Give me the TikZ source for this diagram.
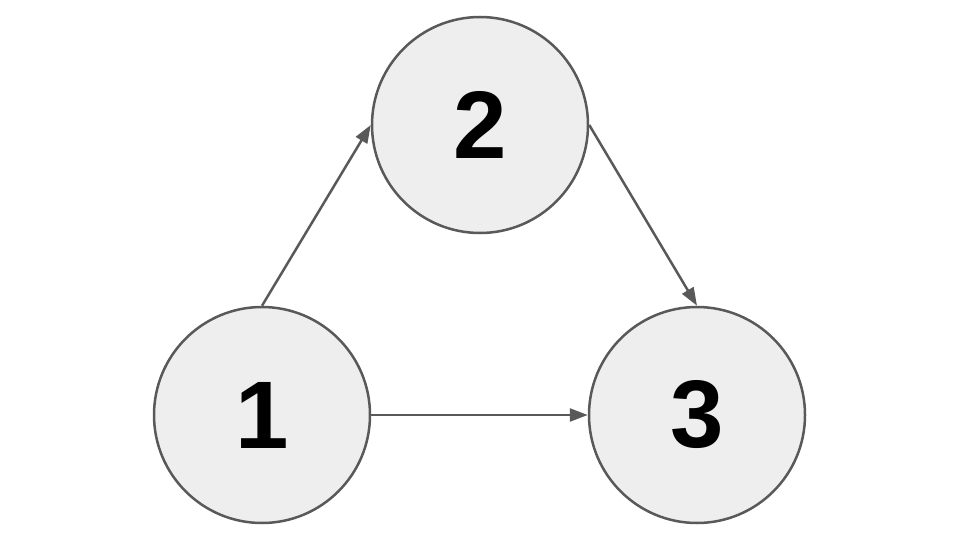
\documentclass[tikz,border=0pt]{standalone}
\usepackage{fontspec}
\setmainfont{Liberation Sans}
\usetikzlibrary{arrows.meta}
\definecolor{nodefill}{HTML}{EEEEEE}
\definecolor{edgegray}{HTML}{595959}
\tikzset{
  numnode/.style={circle, draw=edgegray, fill=nodefill, line width=2.5pt, minimum size=216pt, inner sep=0pt, font=\fontsize{96}{96}\selectfont\bfseries},
  conn/.style={draw=edgegray, line width=2.5pt, -{Triangle[length=18pt,width=13pt]}}
}
\begin{document}
\begin{tikzpicture}[x=1pt,y=-1pt]
\useasboundingbox (0,0) rectangle (960,540);
\node[numnode] (n1) at (262,415) {1};
\node[numnode] (n2) at (480,125) {2};
\node[numnode] (n3) at (697,415) {3};
\draw[conn] (n1.north) -- (n2.west);
\draw[conn] (n2.east) -- (n3.north);
\draw[conn] (n1.east) -- (n3.west);
\end{tikzpicture}
\end{document}
